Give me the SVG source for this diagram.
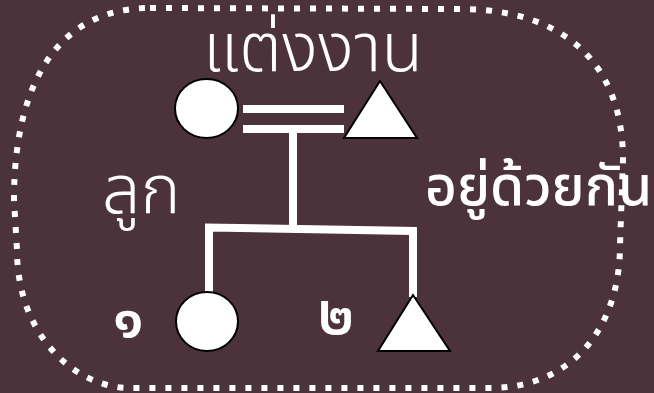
<svg xmlns="http://www.w3.org/2000/svg" width="654" height="393" viewBox="0 0 654 393">
<style>
.bg{fill:#4b323b}
.border{fill:none;stroke:#fff;stroke-width:6;stroke-dasharray:6 10}
.line{fill:none;stroke:#fff;stroke-width:8;stroke-linejoin:miter;stroke-linecap:butt}
.shape{fill:#fff;stroke:#000;stroke-width:2}
.t{fill:#fff;font-family:"Noto Sans Thai","Noto Sans",sans-serif}
.thin{font-weight:300}
.mid{font-weight:500}
.bold{font-weight:600}
</style>
<rect class="bg" x="0" y="0" width="654" height="393"/>
<g id="connectors">
<line class="line" x1="243" y1="109" x2="344" y2="109"/>
<line class="line" x1="243" y1="129" x2="344" y2="129"/>
<line class="line" x1="293" y1="133" x2="293" y2="228"/>
<polyline class="line" points="209,292 209,227.5 413,231 413,297"/>
</g>
<g id="mother"><ellipse class="shape" cx="206.5" cy="108.5" rx="31.5" ry="29.5"/></g>
<g id="father"><polygon class="shape" points="380,81 344,138 417,138"/></g>
<g id="child1"><ellipse class="shape" cx="207" cy="321.5" rx="31" ry="29.5"/></g>
<g id="child2"><polygon class="shape" points="413,295 378,351 450,351"/></g>
<g id="labels">
<text class="t thin" x="203" y="71" font-size="68">แต่งงาน</text>
<text class="t thin" x="102" y="213" font-size="68">ลูก</text>
<text class="t mid" x="425" y="205" font-size="55">อยู่ด้วยกัน</text>
<text class="t bold" x="113" y="337" font-size="57">๑</text>
<text class="t bold" x="318" y="334" font-size="57">๒</text>
</g>
<path class="border" d="M150,8 L460,9 C560,9 623,60 623,160 L620,245 C620,330 570,388 490,388 L130,388 C75,388 17,335 17,250 L14,200 C14,80 60,8 150,8 Z"/>
</svg>
